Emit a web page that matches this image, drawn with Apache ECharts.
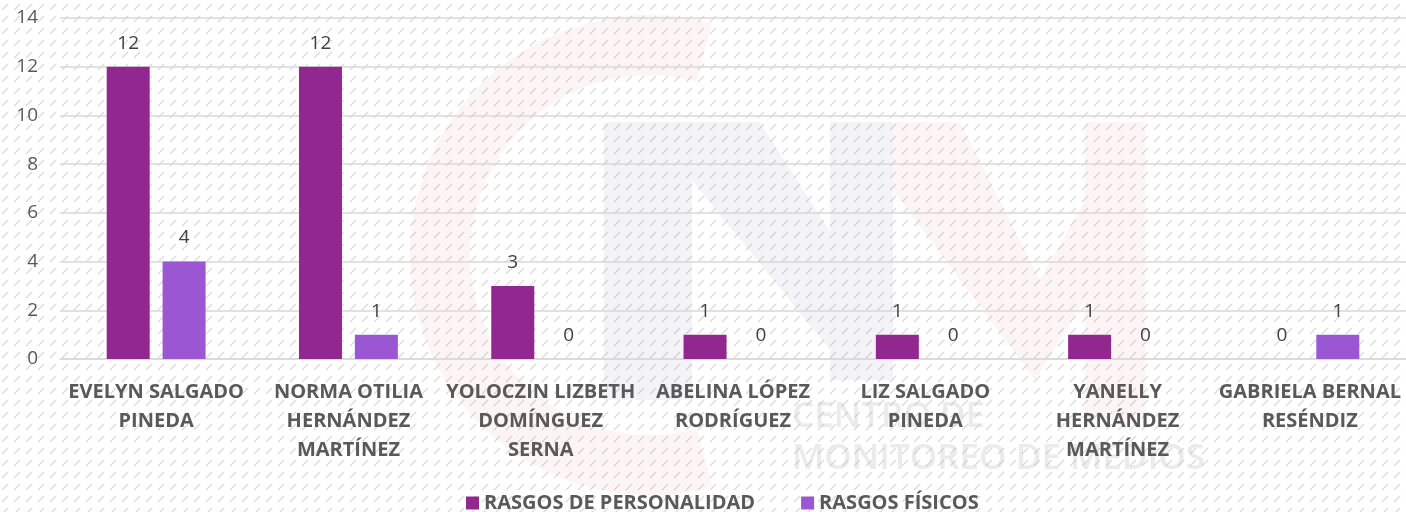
<!DOCTYPE html>
<html>
<head>
<meta charset="utf-8">
<script src="https://cdn.jsdelivr.net/npm/echarts@6/dist/echarts.min.js"></script>
<style>
  html, body { margin: 0; padding: 0; background: #fff; }
  #main { width: 1406px; height: 512px; }
</style>
</head>
<body>
<div id="main"></div>
<script>
const categories = [
  'EVELYN SALGADO\nPINEDA',
  'NORMA OTILIA\nHERNÁNDEZ\nMARTÍNEZ',
  'YOLOCZIN LIZBETH\nDOMÍNGUEZ\nSERNA',
  'ABELINA LÓPEZ\nRODRÍGUEZ',
  'LIZ SALGADO\nPINEDA',
  'YANELLY\nHERNÁNDEZ\nMARTÍNEZ',
  'GABRIELA BERNAL\nRESÉNDIZ'
];
const personalidad = [12, 12, 3, 1, 1, 1, 0];
const fisicos = [4, 1, 0, 0, 0, 0, 1];
const seriesNames = ['RASGOS DE PERSONALIDAD', 'RASGOS FÍSICOS'];

// hatch background like the original
const hatch = document.createElement('canvas');
hatch.width = 12; hatch.height = 12;
const hc = hatch.getContext('2d');
hc.fillStyle = '#ffffff';
hc.fillRect(0, 0, 12, 12);
hc.strokeStyle = '#dadada';
hc.lineWidth = 1.3;
hc.beginPath();
hc.moveTo(2, 10); hc.lineTo(8, 4);
hc.stroke();

const pink = 'rgba(225,120,120,0.07)';
const slate = 'rgba(110,120,160,0.08)';

const chart = echarts.init(document.getElementById('main'));
const font = '"Open Sans", "Liberation Sans", sans-serif';
const option = {
  backgroundColor: { image: hatch, repeat: 'repeat' },
  textStyle: { fontFamily: font },
  // faint CMM watermark behind the chart
  graphic: [
    {
      type: 'sector', z: -1, silent: true,
      shape: { cx: 650, cy: 255, r0: 180, r: 240, startAngle: 75 * Math.PI / 180, endAngle: 285 * Math.PI / 180, clockwise: true },
      style: { fill: pink }
    },
    {
      type: 'polygon', z: -1, silent: true,
      shape: { points: [[604, 122], [692, 122], [692, 400], [604, 400]] },
      style: { fill: slate }
    },
    {
      type: 'polygon', z: -1, silent: true,
      shape: { points: [[692, 122], [760, 122], [830, 232], [830, 350], [692, 180]] },
      style: { fill: slate }
    },
    {
      type: 'polygon', z: -1, silent: true,
      shape: { points: [[830, 122], [893, 122], [893, 380], [830, 380]] },
      style: { fill: slate }
    },
    {
      type: 'polygon', z: -1, silent: true,
      shape: { points: [[893, 122], [960, 122], [1040, 280], [1085, 200], [1085, 122], [1145, 122], [1145, 420], [1085, 420], [1085, 300], [1035, 380], [893, 190]] },
      style: { fill: pink }
    },
    {
      type: 'text', left: 792, top: 396, z: -1, silent: true,
      style: {
        text: 'CENTRO DE\nMONITOREO DE MEDIOS',
        font: '600 35px ' + font,
        lineHeight: 42,
        fill: 'rgba(190,190,190,0.3)'
      }
    }
  ],
  grid: { left: 60, right: 0, top: 18, bottom: 153 },
  legend: {
    top: 488,
    left: 461,
    itemWidth: 13,
    itemHeight: 13,
    itemGap: 46,
    icon: 'rect',
    textStyle: { fontSize: 20, fontWeight: 'bold', color: '#595959', fontFamily: font }
  },
  xAxis: {
    type: 'category',
    data: categories,
    axisLine: { lineStyle: { color: '#d9d9d9', width: 1.5 } },
    axisTick: { show: false },
    axisLabel: {
      interval: 0,
      margin: 19,
      fontSize: 20,
      fontWeight: 'bold',
      color: '#595959',
      lineHeight: 29,
      fontFamily: font
    }
  },
  yAxis: {
    type: 'value',
    min: 0,
    max: 14,
    interval: 2,
    axisLine: { show: false },
    axisTick: { show: false },
    splitLine: { lineStyle: { color: '#d9d9d9', width: 1.5 } },
    axisLabel: { fontSize: 19, color: '#595959', margin: 22, fontFamily: font }
  },
  series: [
    {
      name: seriesNames[0],
      type: 'bar',
      data: personalidad,
      barWidth: 43,
      barGap: '30%',
      itemStyle: { color: '#92278f' },
      label: { show: true, position: 'top', distance: 14, fontSize: 19, color: '#404040', fontFamily: font }
    },
    {
      name: seriesNames[1],
      type: 'bar',
      data: fisicos,
      barWidth: 43,
      itemStyle: { color: '#9b57d3' },
      label: { show: true, position: 'top', distance: 14, fontSize: 19, color: '#404040', fontFamily: font }
    }
  ]
};
chart.setOption(option);
</script>
</body>
</html>
